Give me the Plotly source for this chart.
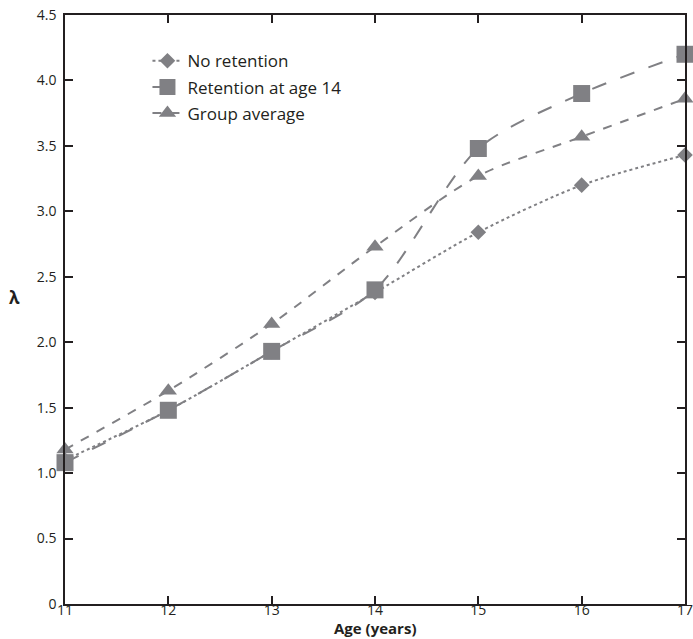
import plotly.graph_objects as go

ages = [11, 12, 13, 14, 15, 16, 17]
no_retention = [1.10, 1.48, 1.93, 2.38, 2.84, 3.20, 3.43]
retention_14 = [1.08, 1.48, 1.93, 2.40, 3.48, 3.90, 4.20]
group_average = [1.18, 1.63, 2.14, 2.73, 3.27, 3.57, 3.86]

y_ticks = [0, 0.5, 1.0, 1.5, 2.0, 2.5, 3.0, 3.5, 4.0, 4.5]
y_ticktext = ["0", "0.5", "1.0", "1.5", "2.0", "2.5", "3.0", "3.5", "4.0", "4.5"]

gray = "#808084"
axis_col = "#231f20"
font_fam = "Open Sans, Noto Sans, sans-serif"

fig = go.Figure()
fig.add_trace(go.Scatter(
    x=ages, y=group_average, name="Group average", mode="lines+markers",
    line=dict(color=gray, width=2, dash="dash", shape="spline", smoothing=0.8),
    marker=dict(symbol="triangle-up", size=15, color=gray), legendrank=3,
    legendgroup="c", cliponaxis=False))
fig.add_trace(go.Scatter(
    x=ages, y=no_retention, name="No retention", mode="lines+markers",
    line=dict(color=gray, width=2, dash="dot", shape="spline", smoothing=0.8),
    marker=dict(symbol="diamond", size=12, color=gray), legendrank=1,
    legendgroup="a", cliponaxis=False))
fig.add_trace(go.Scatter(
    x=ages, y=retention_14, name="Retention at age 14", mode="lines+markers",
    line=dict(color=gray, width=2, dash="longdash", shape="spline", smoothing=0.8),
    marker=dict(symbol="square", size=17, color=gray), legendrank=2,
    legendgroup="b", cliponaxis=False))

fig.update_layout(
    width=693, height=639,
    margin=dict(l=65, r=8, t=15, b=35),
    paper_bgcolor="white", plot_bgcolor="white",
    font=dict(family=font_fam, size=15, color=axis_col),
    showlegend=True,
    legend=dict(x=0.133, y=0.952, xanchor="left", yanchor="top",
                font=dict(size=17, color=axis_col), bgcolor="rgba(0,0,0,0)",
                tracegroupgap=1),
)
fig.update_xaxes(
    range=[11, 17], tickvals=ages, ticks="inside", ticklen=8, tickwidth=1.5,
    tickcolor=axis_col, showline=True, linecolor=axis_col, linewidth=1.5,
    mirror="ticks", showgrid=False, zeroline=False, automargin=False,
    tickfont=dict(size=14, color=axis_col), ticklabelstandoff=-8,
    ticklabeloverflow="allow", title=dict(text=""),
)
fig.update_yaxes(
    range=[0, 4.5], tickvals=y_ticks, ticktext=y_ticktext, ticks="inside", ticklen=8,
    tickwidth=1.5, tickcolor=axis_col, showline=True, linecolor=axis_col, linewidth=1.5,
    mirror="ticks", showgrid=False, zeroline=False, automargin=False,
    tickfont=dict(size=14, color=axis_col), ticklabelstandoff=4,
    ticklabeloverflow="allow", title=dict(text=""),
)
fig.add_annotation(text="<b>λ</b>", xref="paper", yref="paper", x=-0.081, y=0.52,
                   xanchor="center", showarrow=False, font=dict(size=17, color=axis_col))
fig.add_annotation(text="<b>Age (years)</b>", xref="paper", yref="paper", x=0.5, y=-0.041,
                   yanchor="middle", showarrow=False, font=dict(size=15, color=axis_col))

fig.write_html("out.html", config={"displayModeBar": False},
               post_script="document.body.style.margin='0';")
